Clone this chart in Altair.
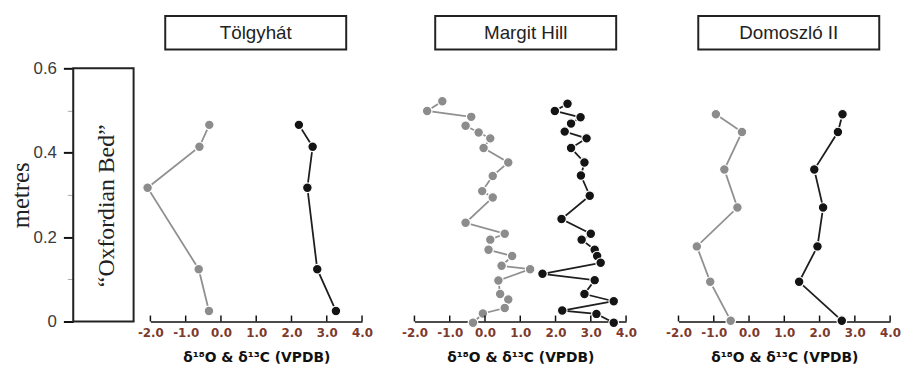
import altair as alt
import pandas as pd

SITES = ["Tölgyhát", "Margit Hill", "Domoszló II"]
X_TICKS = [-2, -1, 0, 1, 2, 3, 4]
Y_TICKS = [0, 0.1, 0.2, 0.3, 0.4, 0.5, 0.6]

# Tölgyhát
T_DEPTH = [0.466, 0.414, 0.317, 0.124, 0.025]
T_O = [-0.33, -0.61, -2.08, -0.63, -0.34]
T_C = [2.21, 2.60, 2.45, 2.73, 3.26]

# Margit Hill
M_O_DEPTH = [0.522, 0.499, 0.485, 0.464, 0.448, 0.434, 0.411, 0.377, 0.345, 0.309,
             0.294, 0.234, 0.208, 0.194, 0.170, 0.155, 0.132, 0.124, 0.097, 0.065,
             0.052, 0.032, 0.019, -0.003]
M_O = [-1.21, -1.64, -0.39, -0.55, -0.18, 0.15, -0.04, 0.66, 0.22, -0.08,
       0.22, -0.55, 0.56, 0.15, 0.10, 0.77, 0.47, 1.28, 0.38, 0.43,
       0.66, 0.56, -0.06, -0.34]
M_C_DEPTH = [0.516, 0.499, 0.484, 0.469, 0.450, 0.434, 0.411, 0.377, 0.346, 0.298,
             0.243, 0.208, 0.194, 0.170, 0.155, 0.139, 0.113, 0.098, 0.065, 0.048,
             0.026, 0.018, -0.003]
M_C = [2.34, 1.98, 2.71, 2.44, 2.26, 2.88, 2.44, 2.82, 2.72, 2.97,
       2.17, 3.00, 2.74, 3.11, 3.18, 3.28, 1.63, 3.11, 2.82, 3.65,
       2.19, 3.16, 3.65]

# Domoszló II
D_DEPTH = [0.491, 0.449, 0.360, 0.270, 0.178, 0.094, 0.002]
D_O = [-0.94, -0.20, -0.70, -0.33, -1.48, -1.10, -0.52]
D_C = [2.65, 2.52, 1.85, 2.10, 1.94, 1.42, 2.63]

W, H = 214, 256
BOX_W = 183
BOX_LEFT = [15, 21, 20]

GRAY = "#8c8c8c"
BLACK = "#141414"
GRAY_LINE = "#909090"
BLACK_LINE = "#1e1e1e"

xscale = alt.Scale(domain=[-2, 4], nice=False, zero=False)
yscale = alt.Scale(domain=[0, 0.6], nice=False, zero=False)

xaxis = alt.Axis(
    values=X_TICKS, title="δ¹⁸O & δ¹³C (VPDB)", grid=False, ticks=False, tickSize=0,
    domainColor="#111", domainWidth=1.5,
    labelFont="DejaVu Sans", labelFontSize=12, labelFontWeight="bold",
    labelColor="#7d3a2c", labelPadding=6, labelFlush=False, labelOverlap=False,
    labelExpr="(datum.value < 0 ? '-' : '') + format(abs(datum.value), '.1f')",
    titleFont="DejaVu Sans", titleFontSize=14, titleFontWeight="bold",
    titleColor="#111", titlePadding=12,
)

MAJOR = "round(datum.value*10) % 2 === 0"
yaxis = alt.Axis(
    values=Y_TICKS, title="metres", grid=False,
    domainColor="#111", domainWidth=2,
    tickSize={"condition": {"test": MAJOR, "value": 10}, "value": 6},
    tickColor={"condition": {"test": MAJOR, "value": "#111"}, "value": "#aaa"},
    tickWidth={"condition": {"test": MAJOR, "value": 2}, "value": 1},
    labelExpr=MAJOR + " ? (datum.value === 0 ? '0' : format(datum.value, '.1f')) : ''",
    labelFont="Liberation Sans", labelFontSize=17, labelColor="#3a3a3a", labelPadding=7,
    titleFont="Liberation Serif", titleFontSize=25, titleFontWeight="normal",
    titleColor="#222", titlePadding=0,
)


def panel(i, o_depth, o_vals, c_depth, c_vals):
    df = pd.DataFrame({
        "v": o_vals + c_vals,
        "depth": o_depth + c_depth,
        "iso": ["O"] * len(o_vals) + ["C"] * len(c_vals),
    })
    x = alt.X("v:Q", scale=xscale, axis=xaxis)
    y = alt.Y("depth:Q", scale=yscale, axis=None)
    lines = alt.Chart(df).mark_line(strokeWidth=1.8).encode(
        x=x, y=y,
        color=alt.Color("iso:N", scale=alt.Scale(domain=["O", "C"], range=[GRAY_LINE, BLACK_LINE]), legend=None),
        order=alt.Order("depth:Q"),
    )
    points = alt.Chart(df).mark_circle(size=95, opacity=1, stroke="white", strokeWidth=1.2).encode(
        x=x, y=y,
        fill=alt.Fill("iso:N", scale=alt.Scale(domain=["O", "C"], range=[GRAY, BLACK]), legend=None),
    )
    ticks = alt.Chart(pd.DataFrame({"v": X_TICKS})).mark_rule(color="#111", strokeWidth=1.5).encode(
        x=x, y=alt.value(H), y2=alt.value(H - 6)
    )
    sdf = pd.DataFrame({"site": [SITES[i]]})
    box = alt.Chart(sdf).mark_rect(fill="white", stroke="#222", strokeWidth=2).encode(
        x=alt.value(BOX_LEFT[i]), x2=alt.value(BOX_LEFT[i] + BOX_W),
        y=alt.value(-53), y2=alt.value(-19),
    )
    txt = alt.Chart(sdf).mark_text(font="Liberation Sans", fontSize=19, color="#222",
                                   align="center", baseline="middle").encode(
        x=alt.value(BOX_LEFT[i] + BOX_W / 2), y=alt.value(-36), text="site:N"
    )
    return alt.layer(lines, points, ticks, box, txt).properties(width=W, height=H)


box_df = pd.DataFrame({"top": [0.6], "bottom": [0.0], "label": ["“Oxfordian Bed”"]})
left_rect = alt.Chart(box_df).mark_rect(fill="white", stroke="#222", strokeWidth=2).encode(
    y=alt.Y("top:Q", scale=yscale, axis=yaxis), y2="bottom:Q",
    x=alt.value(0), x2=alt.value(61),
)
left_text = alt.Chart(box_df).mark_text(angle=270, font="Liberation Serif", fontSize=24,
                                        color="#222", align="center", baseline="middle").encode(
    x=alt.value(34), y=alt.value(139), text="label:N"
)
left = alt.layer(left_rect, left_text).properties(width=61, height=H)

p1 = panel(0, T_DEPTH, T_O, T_DEPTH, T_C)
p2 = panel(1, M_O_DEPTH, M_O, M_C_DEPTH, M_C)
p3 = panel(2, D_DEPTH, D_O, D_DEPTH, D_C)

inner = alt.hconcat(p1, p2, p3, spacing=53, bounds="flush")
chart = alt.hconcat(left, inner, spacing=17, bounds="flush").configure_view(stroke=None).properties(
    padding={"left": 0, "top": 5, "right": 0, "bottom": 0}
)

chart.save("out.html", embed_options={"renderer": "svg", "actions": False})
